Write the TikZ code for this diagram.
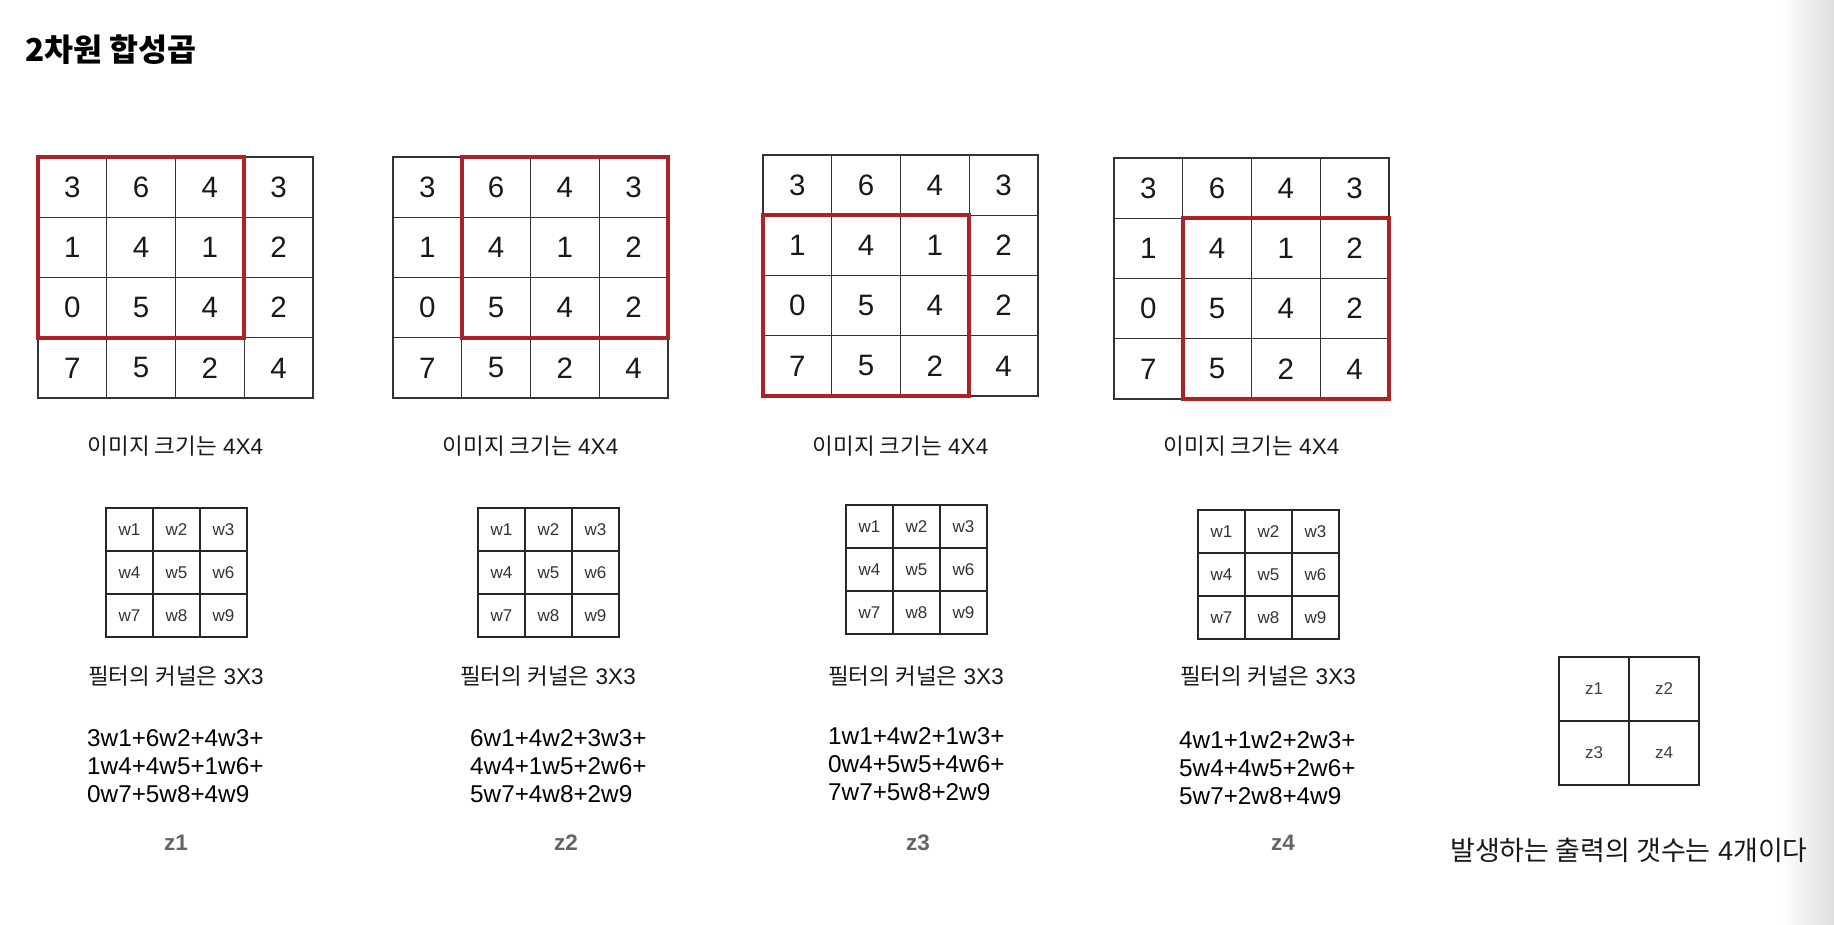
\documentclass[tikz,border=0pt]{standalone}
\usepackage{fontspec}
\setmainfont{Liberation Sans}
\newfontfamily\kr{Noto Sans CJK KR}
\usetikzlibrary{positioning}
\definecolor{boxred}{RGB}{172,34,38}
\definecolor{zgray}{RGB}{100,100,100}

\tikzset{
  cell/.style={draw=black!80, line width=1.2pt, minimum width=68.75pt, minimum height=60.25pt,
    inner sep=0pt, outer sep=0pt, font=\fontsize{29.5}{29.5}\selectfont, text=black!90},
  wcell/.style={draw=black!85, line width=1.2pt, minimum width=47pt, minimum height=43pt,
    inner sep=0pt, outer sep=0pt, font=\fontsize{17}{17}\selectfont, text=black!80},
  zcell/.style={draw=black!85, line width=1.2pt, minimum width=70pt, minimum height=64pt,
    inner sep=0pt, outer sep=0pt, font=\fontsize{17}{17}\selectfont, text=black!75},
  caption/.style={font=\fontsize{22.5}{22.5}\selectfont, text=black!90, inner sep=0pt},
  eqn/.style={font=\fontsize{24.3}{28}\selectfont, align=left, anchor=north west, inner sep=0pt},
  zlabel/.style={font=\bfseries\fontsize{22.5}{22.5}\selectfont, text=zgray},
  redbox/.style={draw=boxred, line width=3.6pt}
}

\begin{document}
\begin{tikzpicture}[x=1pt,y=-1pt]
	\useasboundingbox (0,0) rectangle (1834,924);
	\fill[white] (0,0) rectangle (1834,924);
	\shade[left color=white, right color=black!13] (1780,0) rectangle (1834,924);

	% title
	\node[anchor=west, inner sep=0pt, font=\kr\bfseries\fontsize{31.5}{31.5}\selectfont] (title) at (25,50) {2차원 합성곱};

	% 4x4 images
	\foreach \g/\gx/\gy in {1/38/157, 2/393/157, 3/763/155, 4/1114/158} {
		\foreach \r/\row in {0/{3,6,4,3}, 1/{1,4,1,2}, 2/{0,5,4,2}, 3/{7,5,2,4}} {
			\foreach \v [count=\c from 0] in \row {
				\node[cell] (g\g-\r-\c) at ({\gx+\c*68.75+34.375},{\gy+\r*60.25+30.125}) {\v};
			}
		}
		\node[caption] (size\g) at ({\gx+137.5},446) {{\kr 이미지 크기는} 4X4};
	}
	\draw[redbox] (g1-0-0.north west) rectangle (g1-2-2.south east);
	\draw[redbox] (g2-0-1.north west) rectangle (g2-2-3.south east);
	\draw[redbox] (g3-1-0.north west) rectangle (g3-3-2.south east);
	\draw[redbox] (g4-1-1.north west) rectangle (g4-3-3.south east);

	% 3x3 filters
	\foreach \f/\fx/\fy in {1/106/508, 2/478/508, 3/846/505, 4/1198/510} {
		\foreach \r in {0,1,2} {
			\foreach \c in {0,1,2} {
				\pgfmathtruncatemacro\k{\r*3+\c+1}
				\node[wcell] (f\f-\r-\c) at ({\fx+\c*47+23.5},{\fy+\r*43+21.5}) {w\k};
			}
		}
		\node[caption] (kern\f) at ({\fx+70},676) {{\kr 필터의 커널은} 3X3};
	}

	% sums
	\node[eqn] (sum1) at (87,729) {3w1+6w2+4w3+\\1w4+4w5+1w6+\\0w7+5w8+4w9};
	\node[eqn] (sum2) at (470,729) {6w1+4w2+3w3+\\4w4+1w5+2w6+\\5w7+4w8+2w9};
	\node[eqn] (sum3) at (828,727) {1w1+4w2+1w3+\\0w4+5w5+4w6+\\7w7+5w8+2w9};
	\node[eqn] (sum4) at (1179,731) {4w1+1w2+2w3+\\5w4+4w5+2w6+\\5w7+2w8+4w9};

	\node[zlabel] (name1) at (176,843) {z1};
	\node[zlabel] (name2) at (566,843) {z2};
	\node[zlabel] (name3) at (918,843) {z3};
	\node[zlabel] (name4) at (1283,843) {z4};

	% 2x2 output
	\node[zcell] (out1) at (1594,689) {z1};
	\node[zcell] (out2) at (1664,689) {z2};
	\node[zcell] (out3) at (1594,753) {z3};
	\node[zcell] (out4) at (1664,753) {z4};
	\node[inner sep=0pt, text=black!90, font=\fontsize{27}{27}\selectfont] (count) at (1629,850) {{\kr 발생하는 출력의 갯수는} 4{\kr 개이다}};
\end{tikzpicture}
\end{document}
